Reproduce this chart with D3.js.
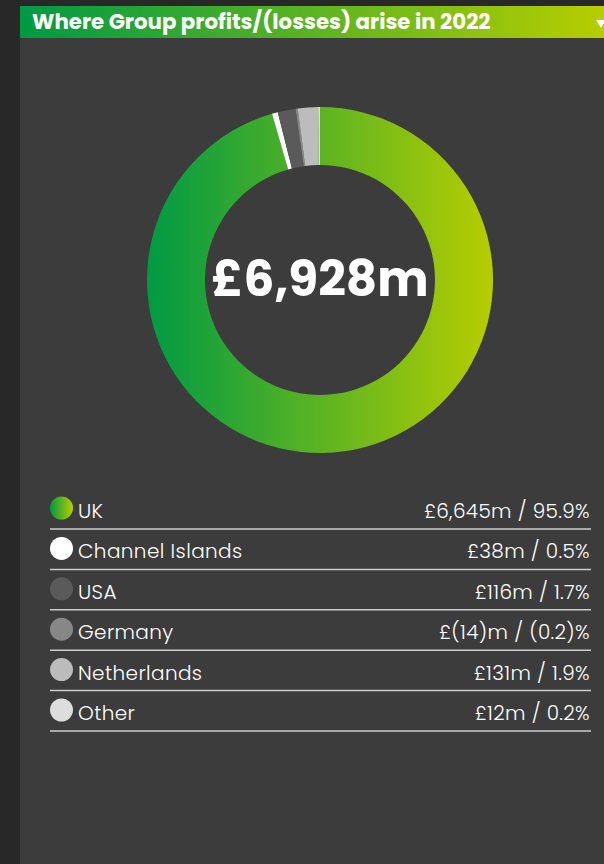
<!DOCTYPE html>
<html>
<head>
<meta charset="utf-8">
<script src="https://cdn.jsdelivr.net/npm/d3@7"></script>
<style>
  body { margin: 0; background: #282828; }
  svg { display: block; font-family: Poppins, "Open Sans", Lato, sans-serif; }
</style>
</head>
<body>
<div id="chart"></div>
<script>
// where group profits arise, 2022
const title = "Where Group profits/(losses) arise in 2022";
const regions = ["UK", "Channel Islands", "USA", "Germany", "Netherlands", "Other"];
const profits = [6645, 38, 116, -14, 131, 12];   // £m
const shares = [95.9, 0.5, 1.7, -0.2, 1.9, 0.2]; // %
const totalProfit = 6928;
const colors = ["url(#ringGrad)", "#ffffff", "#5a5a5a", "#878787", "#bcbcbc", "#dddddd"];

const width = 604, height = 864;
const cx = 320, cy = 280;

const svg = d3.select("#chart").append("svg")
    .attr("width", width)
    .attr("height", height);

const defs = svg.append("defs");
function grad(id, x1, x2) {
  const g = defs.append("linearGradient")
      .attr("id", id)
      .attr("gradientUnits", "userSpaceOnUse")
      .attr("x1", x1).attr("x2", x2).attr("y1", 0).attr("y2", 0);
  g.append("stop").attr("offset", "0%").attr("stop-color", "#009a44");
  g.append("stop").attr("offset", "100%").attr("stop-color", "#b7cd00");
}
grad("ringGrad", -173, 173);   // ring group is translated to centre
grad("headGrad", 20, 604);
grad("dotGrad", 50, 73);

// panel + header
svg.append("rect").attr("x", 20).attr("y", 6).attr("width", width - 20).attr("height", height - 6).attr("fill", "#3c3c3c");
svg.append("rect").attr("x", 20).attr("y", 6).attr("width", width - 20).attr("height", 32).attr("fill", "url(#headGrad)");
svg.append("text")
    .attr("x", 32).attr("y", 28.5)
    .attr("fill", "#fff")
    .attr("font-size", 21.3)
    .attr("font-weight", 700)
    .text(title);
svg.append("path")
    .attr("d", "M596,20 L606,20 L601,28 Z")
    .attr("fill", "#fff");

// donut
const pie = d3.pie().sort(null).value(d => Math.abs(d));
const arc = d3.arc().innerRadius(115).outerRadius(173);

svg.append("g")
    .attr("transform", `translate(${cx},${cy})`)
  .selectAll("path")
  .data(pie(profits))
  .join("path")
    .attr("d", arc)
    .attr("fill", (d, i) => colors[i]);

svg.append("text")
    .attr("x", cx).attr("y", 296)
    .attr("text-anchor", "middle")
    .attr("fill", "#fff")
    .attr("font-size", 48.5)
    .attr("font-weight", 700)
    .text("£" + d3.format(",")(totalProfit) + "m");

// legend
const fmt = v => v < 0 ? `(${Math.abs(v)})` : `${d3.format(",")(v)}`;
const rowY = d3.scaleLinear().domain([0, 1]).range([529, 569.4]);

const rows = svg.append("g").selectAll("g")
  .data(regions)
  .join("g")
    .attr("transform", (d, i) => `translate(0,${rowY(i)})`);

rows.append("circle")
    .attr("cx", 61.5).attr("cy", -21).attr("r", 11.5)
    .attr("fill", (d, i) => i === 0 ? "url(#dotGrad)" : colors[i]);

rows.append("text")
    .attr("x", 78).attr("y", -11)
    .attr("fill", "#fff")
    .attr("font-size", 20)
    .attr("font-weight", 300)
    .attr("letter-spacing", 0.4)
    .text(d => d);

rows.append("text")
    .attr("x", 590).attr("y", -11)
    .attr("text-anchor", "end")
    .attr("fill", "#fff")
    .attr("font-size", 20)
    .attr("font-weight", 300)
    .attr("letter-spacing", 0.35)
    .text((d, i) => `£${fmt(profits[i])}m / ${fmt(shares[i])}%`);

rows.append("line")
    .attr("x1", 50).attr("x2", 591)
    .attr("y1", 0).attr("y2", 0)
    .attr("stroke", "#cccccc")
    .attr("stroke-width", 1.5);
</script>
</body>
</html>
